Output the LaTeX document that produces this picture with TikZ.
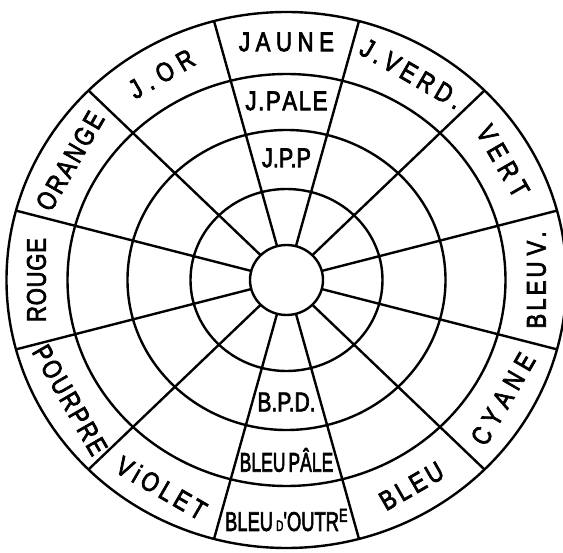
\documentclass[tikz,border=0pt]{standalone}
\usepackage{fontspec}
\newfontfamily\hand{Liberation Sans}[FakeBold=3]
\usepackage{graphicx}
\newcommand\sprd[2]{\scalebox{0.82}[1]{\makebox[\dimexpr #1pt*50/41\relax][s]{#2}}}
\newcommand\cnd[2]{\scalebox{#1}[1]{#2}}
\begin{document}
\begin{tikzpicture}[x=1pt,y=1pt,line width=2.4pt,
  lab/.style={font=\hand\fontsize{27}{27}\selectfont, inner sep=0pt}]
\useasboundingbox (0,0) rectangle (563,-553);
\coordinate (C) at (286.5,-280);
\begin{scope}[shift={(C)}]
  % rings
  \draw (0,0) ellipse [x radius=36.5, y radius=35];
  \draw (0,0) ellipse [x radius=96, y radius=91];
  \draw (0,0) ellipse [x radius=159, y radius=150];
  \draw (0,0) ellipse [x radius=219, y radius=206];
  \draw (0,0) ellipse [x radius=280, y radius=268];
  % spokes
  \foreach \a in {15,45,...,345}{
    \coordinate (in\a) at (\a:36.5 and 35);
    \coordinate (out\a) at (\a:280 and 268);
    \draw (in\a) -- (out\a);
  }
  % outer ring labels
  \node[lab, rotate=0]   (jaune)  at (90:250 and 238)  {\sprd{95}{J\hfil A\hfil U\hfil N\hfil E}};
  \node[lab, rotate=-30] (jverd)  at (60:250 and 238)  {\sprd{113}{J\hfil .\hfil V\hfil E\hfil R\hfil D\hfil .}};
  \node[lab, rotate=-60] (vert)   at (30:250 and 238)  {\sprd{78}{V\hfil E\hfil R\hfil T}};
  \node[lab, rotate=90]  (bleuv)  at (0:250 and 238)   {\sprd{97}{B\hfil L\hfil E\hfil U\hfil\hfil V\hfil .}};
  \node[lab, rotate=60]  (cyane)  at (-30:250 and 238) {\sprd{101}{C\hfil Y\hfil A\hfil N\hfil E}};
  \node[lab, rotate=30]  (bleu)   at (-60:250 and 238) {\sprd{69}{B\hfil L\hfil E\hfil U}};
  \node[lab, rotate=0]   (outr)   at (-90:250 and 240) {\cnd{0.68}{BLEU\,{\fontsize{15}{15}\selectfont D}'OUTR\textsuperscript{E}}};
  \node[lab, rotate=-30] (violet) at (-120:250 and 240) {\sprd{99}{V\hfil i\hfil O\hfil L\hfil E\hfil T}};
  \node[lab, rotate=-60] (pourpre) at (-150:250 and 240) {\sprd{122}{P\hfil O\hfil U\hfil R\hfil P\hfil R\hfil E}};
  \node[lab, rotate=90]  (rouge)  at (180:250 and 238) {\sprd{84}{R\hfil O\hfil U\hfil G\hfil E}};
  \node[lab, rotate=60]  (orange) at (150:250 and 238) {\sprd{109}{O\hfil R\hfil A\hfil N\hfil G\hfil E}};
  \node[lab, rotate=30]  (jor)    at (120:250 and 238) {\sprd{71}{J\hfil .\hfil O\hfil R}};
  % inner labels
  \node[lab] (jpale) at (90:189 and 179)  {\sprd{82}{J\hfil .\hfil P\hfil A\hfil L\hfil E}};
  \node[lab] (jpp)   at (90:127 and 122)  {\cnd{0.8}{J.P.P}};
  \node[lab] (bpd)   at (-90:127 and 122) {\cnd{0.78}{B.P.D.}};
  \node[lab] (bpale) at (-90:189 and 180) {\cnd{0.65}{BLEU\,PÂLE}};
\end{scope}
\end{tikzpicture}
\end{document}
